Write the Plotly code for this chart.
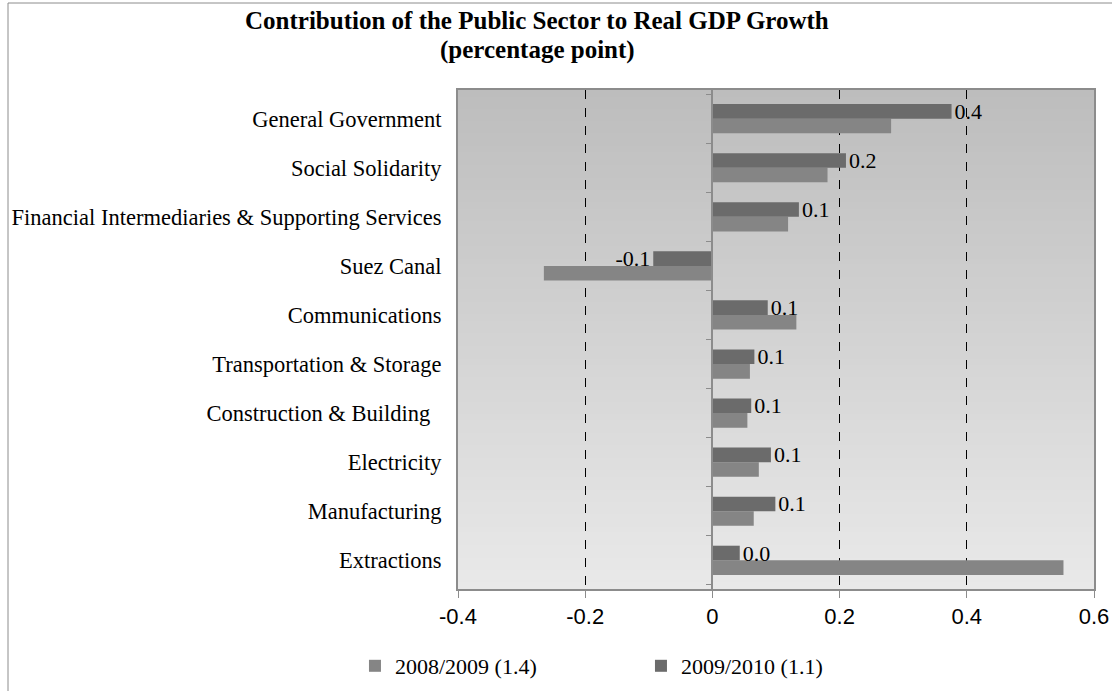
import plotly.graph_objects as go

# Sectors, listed top to bottom as they appear on the chart
sectors = [
    "General Government",
    "Social Solidarity",
    "Financial Intermediaries & Supporting Services",
    "Suez Canal",
    "Communications",
    "Transportation & Storage",
    "Construction & Building\u00a0\u00a0",
    "Electricity",
    "Manufacturing",
    "Extractions",
]

# Contribution to real GDP growth (percentage points)
fy_2008_09 = [0.281, 0.181, 0.119, -0.265, 0.132, 0.059, 0.055, 0.073, 0.065, 0.552]
fy_2009_10 = [0.376, 0.210, 0.136, -0.093, 0.087, 0.066, 0.061, 0.092, 0.099, 0.043]

series_names = ["2008/2009 (1.4)", "2009/2010 (1.1)"]

tick_vals = [-0.4, -0.2, 0, 0.2, 0.4, 0.6]
tick_text = ["-0.4", "-0.2", "0", "0.2", "0.4", "0.6"]

title_lines = ["Contribution of the Public Sector to Real GDP Growth", "(percentage point)"]

SERIF = "Liberation Serif, Times New Roman, serif"
SANS = "Liberation Sans, Arial, sans-serif"
LIGHT = "#858585"
DARK = "#6b6b6b"

# plotly stacks categories bottom-up, so feed the lists reversed
cats = sectors[::-1]
v1 = fy_2008_09[::-1]
v2 = fy_2009_10[::-1]

fig = go.Figure()
fig.add_trace(go.Bar(
    y=cats, x=v1, orientation="h", name=series_names[0],
    marker=dict(color=LIGHT, line=dict(width=0)),
    hoverinfo="skip",
))
fig.add_trace(go.Bar(
    y=cats, x=v2, orientation="h", name=series_names[1],
    marker=dict(color=DARK, line=dict(width=0)),
    texttemplate="%{x:.1f}", textposition="outside",
    textfont=dict(family=SERIF, size=22, color="black"),
    constraintext="none", cliponaxis=False,
    hoverinfo="skip",
))
# invisible helper that carries the category axis drawn at x = 0
fig.add_trace(go.Scatter(
    y=cats, x=[0] * len(cats), yaxis="y2", mode="markers",
    marker=dict(opacity=0), showlegend=False, hoverinfo="skip",
))

# vertical grey gradient behind the bars (bands overlap slightly to hide seams)
shapes = []
n_bands = 80
top_rgb = (189, 189, 189)
bot_rgb = (233, 233, 233)
for i in range(n_bands):
    t = i / (n_bands - 1)
    c = tuple(round(top_rgb[k] + (bot_rgb[k] - top_rgb[k]) * t) for k in range(3))
    shapes.append(dict(
        type="rect", xref="x domain", yref="y domain",
        x0=0, x1=1,
        y0=max(0.0, 1 - (i + 1) / n_bands - 0.004), y1=1 - i / n_bands,
        fillcolor="rgb(%d,%d,%d)" % c, line=dict(width=0), layer="below",
    ))

MARGIN_L, MARGIN_R, MARGIN_T, MARGIN_B = 458, 18, 90, 102
W, H = 1112, 691
plot_w = W - MARGIN_L - MARGIN_R
plot_h = H - MARGIN_T - MARGIN_B


def px_x(px):
    """Horizontal pixel position -> paper coordinate."""
    return (px - MARGIN_L) / plot_w


def px_y(py):
    """Vertical pixel position (from top) -> paper coordinate."""
    return (H - MARGIN_B - py) / plot_h


# chart area frame (left edge at x=8 px, top edge at y=3 px)
shapes.append(dict(
    type="rect", xref="paper", yref="paper",
    x0=px_x(8), x1=1.5, y0=-1.0, y1=px_y(3),
    line=dict(color="#8c8c8c", width=1), fillcolor="rgba(0,0,0,0)", layer="above",
))

title_annots = [
    dict(text="<b>%s</b>" % line, xref="paper", yref="paper",
         x=px_x(537), xanchor="center", y=px_y(cy), yanchor="middle",
         showarrow=False, font=dict(family=SERIF, size=25, color="black"))
    for line, cy in zip(title_lines, [21, 50])
]

fig.update_layout(
    width=W, height=H,
    margin=dict(l=MARGIN_L, r=MARGIN_R, t=MARGIN_T, b=MARGIN_B, autoexpand=False),
    paper_bgcolor="white", plot_bgcolor="#d4d4d4",
    barmode="group", bargap=0.405, bargroupgap=0,
    shapes=shapes,
    annotations=title_annots,
    xaxis=dict(
        range=[-0.4, 0.6], tickvals=tick_vals, ticktext=tick_text,
        showgrid=True, gridcolor="black", griddash="dash", gridwidth=1,
        zeroline=False,
        showline=True, linecolor="#8c8c8c", linewidth=2, mirror=True,
        ticks="outside", ticklen=7, tickcolor="#8c8c8c", tickwidth=1,
        tickfont=dict(family=SANS, size=22, color="black"),
        ticklabelstandoff=0, automargin=False,
    ),
    yaxis=dict(
        type="category", categoryorder="array", categoryarray=cats,
        showgrid=False, zeroline=False,
        showline=True, linecolor="#8c8c8c", linewidth=2, mirror=True,
        ticks="", tickfont=dict(family=SERIF, size=22.5, color="black"),
        ticklabelstandoff=10, automargin=False,
    ),
    yaxis2=dict(
        type="category", categoryorder="array", categoryarray=cats,
        overlaying="y", anchor="free", position=0.4, side="left",
        matches="y",
        showgrid=False, zeroline=False, showticklabels=False,
        showline=True, linecolor="#8c8c8c", linewidth=1.5,
        ticks="outside", tickson="boundaries", ticklen=6, tickcolor="#8c8c8c",
    ),
    legend=dict(
        orientation="h", x=-0.162, xanchor="left",
        y=px_y(666), yanchor="middle",
        font=dict(family=SERIF, size=22, color="black"),
        entrywidth=241, traceorder="normal", itemclick=False,
        bgcolor="rgba(0,0,0,0)",
    ),
    showlegend=True,
)

fig.write_html("out.html")
